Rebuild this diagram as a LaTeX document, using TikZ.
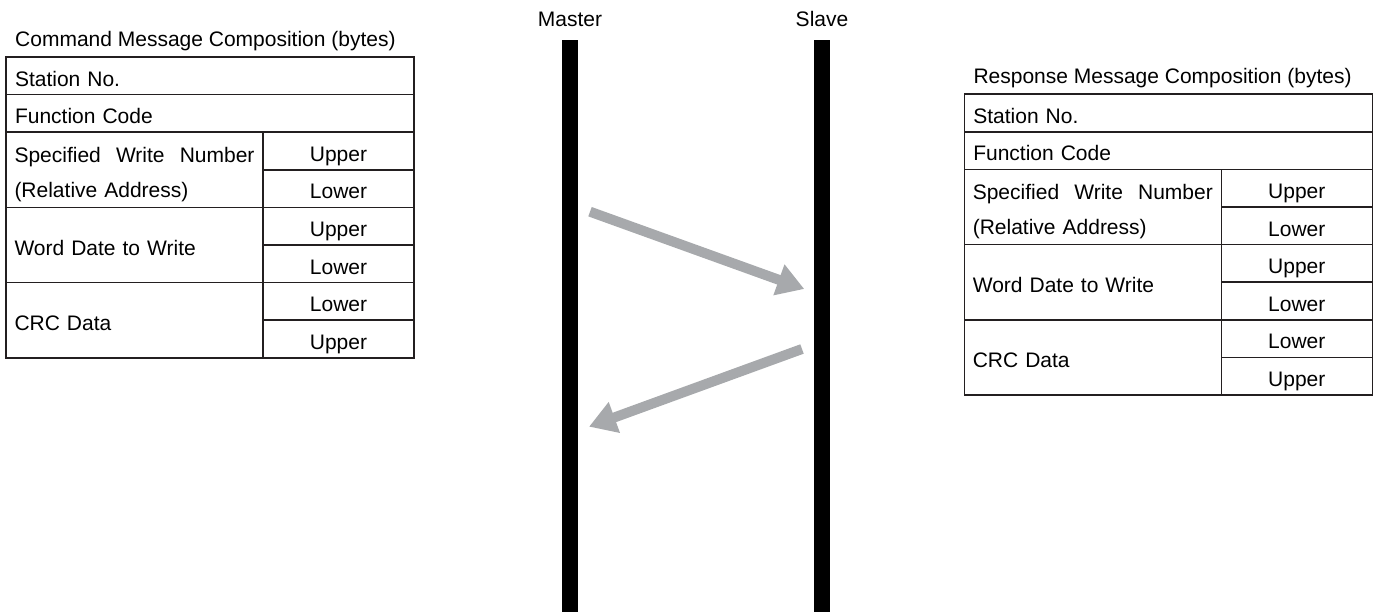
\documentclass[tikz,border=0pt]{standalone}
\usepackage{fontspec}
\setmainfont{Liberation Sans}
\usetikzlibrary{positioning, arrows.meta}
\definecolor{ink}{HTML}{231F20}
\definecolor{flowgrey}{HTML}{A7A9AC}

\begin{document}
\begin{tikzpicture}[
  x=1pt, y=-1pt,
  font=\fontsize{21}{35}\selectfont,
  cell/.style={rectangle, draw=ink, line width=1.6pt, outer sep=0pt,
               inner ysep=0pt, minimum height=37.6pt,
               text height=20.5pt, text depth=0pt, anchor=north west},
  wide/.style={cell, text width=390pt, inner xsep=9pt, align=left},
  key/.style={cell, text width=240pt, inner xsep=8.5pt, align=left,
              minimum height=75.2pt},
  byte/.style={cell, minimum width=151pt, inner xsep=0pt, align=center},
  caption/.style={inner sep=0pt, anchor=base west},
  lifeline/.style={rectangle, fill=black, minimum width=15.5pt,
                   minimum height=572pt, inner sep=0pt, anchor=north},
  msg/.style={draw=flowgrey, line width=10pt,
              -{Triangle[length=27pt, width=31pt]}}
]
\useasboundingbox (0,0) rectangle (1382,612);

% message tables
\foreach \t/\x/\y/\ttl in {cmd/6/57/Command, rsp/964.3/94.3/Response}{
  \begin{scope}[shift={(\x,\y)}]
    \node[caption] (\t-title) at (9,-10.3) {\ttl{} Message Composition (bytes)};
    \node[wide] (\t-stn) at (0,0) {Station No.};
    \node[wide, below=0pt of \t-stn] (\t-fc) {Function Code};
    \node[key, text depth=35pt, below=0pt of \t-fc.south west, anchor=north west] (\t-addr)
      {\makebox[240pt]{Specified\hfill Write\hfill Number}\\(Relative Address)};
    \node[byte, right=0pt of \t-addr.north east, anchor=north west] (\t-addr-hi) {Upper};
    \node[byte, below=0pt of \t-addr-hi] (\t-addr-lo) {Lower};
    \node[key, below=0pt of \t-addr] (\t-data) {Word Date to Write};
    \node[byte, below=0pt of \t-addr-lo] (\t-data-hi) {Upper};
    \node[byte, below=0pt of \t-data-hi] (\t-data-lo) {Lower};
    \node[key, below=0pt of \t-data] (\t-crc) {CRC Data};
    \node[byte, below=0pt of \t-data-lo] (\t-crc-lo) {Lower};
    \node[byte, below=0pt of \t-crc-lo] (\t-crc-hi) {Upper};
  \end{scope}
}

% lifelines
\node[lifeline] (master) at (570,40) {};
\node[lifeline] (slave) at (822,40) {};
\node[above=13pt of master.north, anchor=base] (master-lbl) {Master};
\node[above=13pt of slave.north, anchor=base] (slave-lbl) {Slave};

% messages
\coordinate (req-tail) at (590,211.7);
\coordinate (req-tip) at (804.3,289);
\coordinate (rsp-tail) at (802,349);
\coordinate (rsp-tip) at (589,426.7);
\draw[msg] (req-tail) -- (req-tip);
\draw[msg] (rsp-tail) -- (rsp-tip);
\end{tikzpicture}
\end{document}
